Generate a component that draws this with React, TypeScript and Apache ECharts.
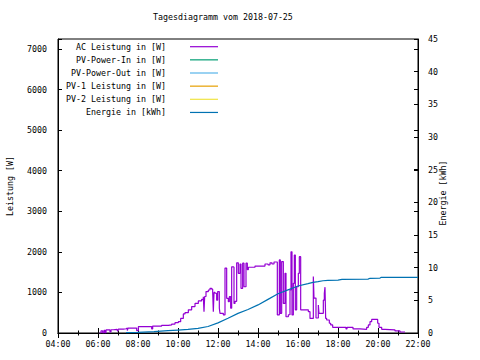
import React, { useEffect, useRef } from 'react';
import * as echarts from 'echarts';

const titleText = 'Tagesdiagramm vom 2018-07-25';
const seriesNames = [
  'AC Leistung in [W]',
  'PV-Power-In in [W]',
  'PV-Power-Out in [W]',
  'PV-1 Leistung in [W]',
  'PV-2 Leistung in [W]',
  'Energie in [kWh]',
];
const seriesColors = ['#9400d3', '#009e73', '#56b4e9', '#e69f00', '#f0e442', '#0072b2'];

const acTimes = [
  '06:04', '06:09', '06:14', '06:18', '06:21', '06:24', '06:33', '06:36', '06:39', '06:46',
  '06:57', '06:59', '07:01', '07:16', '07:24', '07:28', '07:30', '07:51', '07:56', '08:01',
  '08:36', '08:41', '08:44', '09:11', '09:31', '09:41', '09:51', '10:01', '10:08', '10:16',
  '10:21', '10:31', '10:41', '10:51', '11:01', '11:11', '11:16', '11:18', '11:20', '11:24',
  '11:31', '11:36', '11:41', '11:44', '11:46', '11:48', '11:51', '11:56', '11:59', '12:04',
  '12:06', '12:16', '12:21', '12:26', '12:31', '12:34', '12:38', '12:41', '12:46', '12:48',
  '12:51', '12:56', '13:01', '13:06', '13:09', '13:14', '13:18', '13:24', '13:28', '13:31',
  '13:51', '14:21', '14:30', '14:36', '14:42', '14:48', '14:58', '15:04', '15:07', '15:11',
  '15:16', '15:21', '15:24', '15:31', '15:36', '15:39', '15:42', '15:46', '15:49', '15:52',
  '15:56', '16:01', '16:04', '16:08', '16:26', '16:31', '16:36', '16:46', '16:48', '16:54',
  '17:01', '17:03', '17:16', '17:19', '17:21', '17:23', '17:26', '17:34', '17:38', '17:44',
  '18:21', '18:24', '18:27', '18:45', '19:06', '19:26', '19:31', '19:36', '19:41', '19:56',
  '19:59', '20:03', '20:11', '20:21', '20:51', '21:06', '21:21',
];
const acValues = [
  0, 50, 0, 65, 0, 75, 75, 25, 80, 90,
  90, 40, 95, 105, 120, 60, 120, 120, 60, 155,
  155, 100, 170, 190, 200, 220, 255, 280, 360, 470,
  500, 570, 650, 730, 790, 830, 895, 525, 900, 1020,
  1060, 1100, 1080, 1020, 525, 1000, 980, 810, 1020, 610,
  485, 445, 1600, 855, 770, 895, 610, 1630, 1620, 730,
  780, 1730, 1470, 1700, 1100, 1720, 1140, 1720, 1560, 1620,
  1650, 1700, 1680, 1730, 1700, 1750, 445, 1800, 485, 1760,
  730, 1470, 400, 450, 1060, 2000, 445, 1225, 1920, 570,
  1140, 1470, 1880, 570, 570, 525, 360, 1390, 860, 370,
  690, 485, 810, 980, 1130, 360, 320, 240, 200, 140,
  140, 100, 140, 100, 90, 140, 200, 280, 335, 335,
  240, 140, 90, 75, 50, 25, 25,
];

const energyTimes = [
  '07:24', '08:00', '08:48', '09:30', '10:00', '10:30', '11:00', '11:30', '12:00', '12:30',
  '13:00', '13:30', '14:00', '14:30', '15:00', '15:30', '16:00', '16:30', '16:45', '17:00',
  '17:15', '17:30', '18:00', '18:12', '19:30', '19:36', '20:06', '20:09', '22:00',
];
const energyValues = [
  0.05, 0.1, 0.2, 0.35, 0.45, 0.55, 0.7, 1.0, 1.55, 2.25,
  3.0, 3.6, 4.3, 5.15, 6.0, 6.6, 7.2, 7.55, 7.75, 7.85,
  8.0, 8.05, 8.1, 8.2, 8.25, 8.37, 8.4, 8.5, 8.5,
];

const pvInValues: number[] = [];
const pvOutValues: number[] = [];
const pv1Values: number[] = [];
const pv2Values: number[] = [];

const xTicks = { min: 4, max: 22, interval: 2 };
const leftAxis = { min: 0, max: 7245, interval: 1000 };
const rightAxis = { min: 0, max: 45, interval: 5 };

const FONT = 'DejaVu Sans Mono';
const FS = 8.3;

function toHours(t: string): number {
  const [h, m] = t.split(':').map(Number);
  return h + m / 60;
}

export default function App() {
  const ref = useRef<HTMLDivElement>(null);

  useEffect(() => {
    if (!ref.current) return;
    const chart = echarts.init(ref.current, undefined, { renderer: 'svg' });

    const txt = { color: '#000', fontFamily: FONT, fontSize: FS };
    const black = { color: '#000', width: 1 };

    const legendGraphics: any[] = [];
    seriesNames.forEach((name, i) => {
      const y = 46.7 + i * 13.15;
      legendGraphics.push({
        type: 'text',
        x: 166,
        y,
        style: {
          text: name,
          fill: '#000',
          font: `${FS}px "${FONT}"`,
          align: 'right',
          textAlign: 'right',
          verticalAlign: 'middle',
          textVerticalAlign: 'middle',
        },
      });
      legendGraphics.push({
        type: 'line',
        shape: { x1: 190, y1: y, x2: 218, y2: y },
        style: { stroke: seriesColors[i], lineWidth: 1.2 },
      });
    });

    const xCommon = {
      type: 'value',
      ...xTicks,
      axisLine: { show: true, lineStyle: black },
      axisTick: { show: true, inside: true, length: 5, lineStyle: black },
      minorTick: { show: true, splitNumber: 2, length: 2.5, lineStyle: black },
      splitLine: { show: false },
      minorSplitLine: { show: false },
    };

    const mk = (times: string[], vals: number[]) => times.map((t, i) => [toHours(t), vals[i]]);

    chart.setOption({
      animation: false,
      backgroundColor: '#fff',
      textStyle: { fontFamily: FONT },
      title: {
        text: titleText,
        left: 153,
        top: 13,
        padding: 0,
        textStyle: { ...txt, fontWeight: 'normal' },
      },
      grid: {
        left: 58,
        right: 62,
        top: 39,
        bottom: 27,
        containLabel: false,
        outerBoundsMode: 'none',
        show: true,
        borderColor: '#000',
        borderWidth: 1,
        backgroundColor: 'transparent',
      },
      xAxis: [
        {
          ...xCommon,
          position: 'bottom',
          axisLabel: {
            ...txt,
            margin: 7,
            formatter: (v: number) => (v < 10 ? '0' : '') + v + ':00',
          },
        },
        {
          ...xCommon,
          position: 'top',
          axisLabel: { show: false },
        },
      ],
      yAxis: [
        {
          type: 'value',
          position: 'left',
          ...leftAxis,
          name: 'Leistung [W]',
          nameLocation: 'middle',
          nameRotate: 90,
          nameGap: 44.5,
          nameMoveOverlap: false,
          nameTextStyle: txt,
          axisLine: { show: true, lineStyle: black },
          axisTick: { show: true, inside: true, length: 4, lineStyle: black },
          axisLabel: {
            ...txt,
            margin: 11,
            formatter: (v: number) => (v % 1000 === 0 ? String(v) : ''),
          },
          splitLine: { show: false },
        },
        {
          type: 'value',
          position: 'right',
          ...rightAxis,
          name: 'Energie [kWh]',
          nameLocation: 'middle',
          nameRotate: 90,
          nameGap: 21,
          nameMoveOverlap: false,
          nameTextStyle: { ...txt, padding: [0, 14, 0, 0] },
          axisLine: { show: true, lineStyle: black },
          axisTick: { show: true, inside: true, length: 4, lineStyle: black },
          axisLabel: { ...txt, margin: 10 },
          splitLine: { show: false },
        },
        {
          type: 'value',
          position: 'right',
          ...leftAxis,
          axisLine: { show: false },
          axisTick: { show: true, inside: true, length: 4, lineStyle: black },
          axisLabel: { show: false },
          splitLine: { show: false },
        },
      ],
      graphic: legendGraphics,
      series: [
        {
          name: seriesNames[0],
          type: 'line',
          xAxisIndex: 0,
          yAxisIndex: 0,
          step: 'end',
          showSymbol: false,
          data: mk(acTimes, acValues),
          lineStyle: { color: seriesColors[0], width: 1.2 },
          itemStyle: { color: seriesColors[0] },
        },
        {
          name: seriesNames[1],
          type: 'line',
          yAxisIndex: 0,
          showSymbol: false,
          data: pvInValues,
          lineStyle: { color: seriesColors[1], width: 1.2 },
        },
        {
          name: seriesNames[2],
          type: 'line',
          yAxisIndex: 0,
          showSymbol: false,
          data: pvOutValues,
          lineStyle: { color: seriesColors[2], width: 1.2 },
        },
        {
          name: seriesNames[3],
          type: 'line',
          yAxisIndex: 0,
          showSymbol: false,
          data: pv1Values,
          lineStyle: { color: seriesColors[3], width: 1.2 },
        },
        {
          name: seriesNames[4],
          type: 'line',
          yAxisIndex: 0,
          showSymbol: false,
          data: pv2Values,
          lineStyle: { color: seriesColors[4], width: 1.2 },
        },
        {
          name: seriesNames[5],
          type: 'line',
          xAxisIndex: 0,
          yAxisIndex: 1,
          showSymbol: false,
          data: mk(energyTimes, energyValues),
          lineStyle: { color: seriesColors[5], width: 1.2 },
          itemStyle: { color: seriesColors[5] },
        },
      ],
    });

    return () => chart.dispose();
  }, []);

  return (
    <div
      ref={ref}
      style={{ position: 'fixed', left: 0, top: 0, width: 480, height: 360, background: '#fff' }}
    />
  );
}
